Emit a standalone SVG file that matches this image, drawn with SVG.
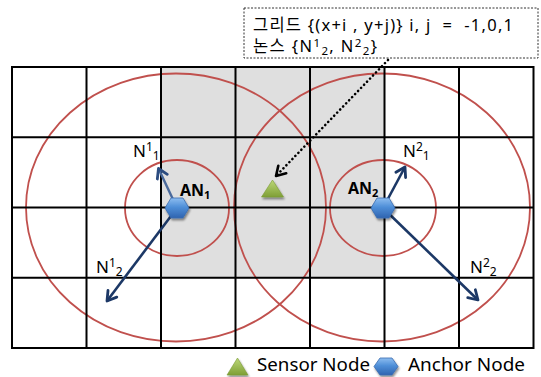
<svg xmlns="http://www.w3.org/2000/svg" width="541" height="377" viewBox="0 0 541 377">
<defs>
<linearGradient id="gHex" x1="0" y1="0" x2="0" y2="1">
<stop offset="0" stop-color="#8dbdf0"/>
<stop offset="0.45" stop-color="#4f8fd8"/>
<stop offset="1" stop-color="#2f64b0"/>
</linearGradient>
<linearGradient id="gTri" x1="0" y1="0" x2="0" y2="1">
<stop offset="0" stop-color="#bcd878"/>
<stop offset="1" stop-color="#7f9f35"/>
</linearGradient>
<filter id="sh" x="-30%" y="-30%" width="160%" height="160%">
<feGaussianBlur in="SourceAlpha" stdDeviation="1"/>
<feOffset dx="1" dy="1.5" result="b"/>
<feComponentTransfer><feFuncA type="linear" slope="0.45"/></feComponentTransfer>
<feMerge><feMergeNode/><feMergeNode in="SourceGraphic"/></feMerge>
</filter>
<marker id="ahNavy" markerUnits="userSpaceOnUse" markerWidth="16" markerHeight="16" refX="12" refY="8" orient="auto">
<path d="M3,2.5 L12,8 L3,13.5" fill="none" stroke="#1c3866" stroke-width="2.8" stroke-linejoin="round" stroke-linecap="round"/>
</marker>
<marker id="ahLight" markerUnits="userSpaceOnUse" markerWidth="16" markerHeight="16" refX="12" refY="8" orient="auto">
<path d="M3,2.5 L12,8 L3,13.5" fill="none" stroke="#2c4c80" stroke-width="2.8" stroke-linejoin="round" stroke-linecap="round"/>
</marker>
<marker id="ahDot" markerUnits="userSpaceOnUse" markerWidth="16" markerHeight="16" refX="12" refY="8" orient="auto">
<path d="M3,2.5 L12,8 L3,13.5" fill="none" stroke="#000" stroke-width="2.6" stroke-linejoin="round" stroke-linecap="round"/>
</marker>
</defs>
<style>
.grid{stroke:#000;stroke-width:2;fill:none}
.ring{fill:none;stroke:#c0504d;stroke-width:1.8}
.lbl{font-family:"Noto Sans","Noto Sans CJK KR",sans-serif;font-size:17px;fill:#000}
.an{font-family:"Noto Sans","Noto Sans CJK KR",sans-serif;font-size:16px;font-weight:bold;fill:#000}
.callout{font-family:"Noto Sans","Noto Sans CJK KR",sans-serif;font-size:16.5px;fill:#000}
.legend{font-family:"Noto Sans","Noto Sans CJK KR",sans-serif;font-size:18px;fill:#000}
.hex{fill:url(#gHex);stroke:#3a6cb0;stroke-width:0.8}
.tri{fill:url(#gTri);stroke:#7a9a36;stroke-width:0.6}
</style>
<rect width="541" height="377" fill="#fff"/>

<g id="shaded-cells">
<rect x="161" y="67" width="223.5" height="210.8" fill="#dfdfdf"/>
</g>

<g id="rings">
<ellipse class="ring" cx="176" cy="207.5" rx="150" ry="134"/>
<ellipse class="ring" cx="382" cy="207.5" rx="148" ry="134"/>
<ellipse class="ring" cx="177" cy="208" rx="52" ry="48"/>
<ellipse class="ring" cx="383" cy="208" rx="53" ry="48"/>
</g>

<g id="grid">
<rect class="grid" x="12" y="67" width="521.5" height="281"/>
<path class="grid" d="M86.5,67V348M161,67V348M235.5,67V348M310,67V348M384.5,67V348M459,67V348M12,137.3H533.5M12,207.5H533.5M12,277.8H533.5"/>
</g>

<g id="connectors">
<line x1="177" y1="208" x2="158.5" y2="168.5" stroke="#4a6a9c" stroke-width="2.4" marker-end="url(#ahLight)"/>
<line x1="177" y1="208" x2="107" y2="301" stroke="#1c3866" stroke-width="2.6" marker-end="url(#ahNavy)"/>
<line x1="383" y1="208" x2="405" y2="167" stroke="#1c3866" stroke-width="2.6" marker-end="url(#ahNavy)"/>
<line x1="383" y1="208" x2="478" y2="300" stroke="#1c3866" stroke-width="2.6" marker-end="url(#ahNavy)"/>
<line x1="388" y1="60" x2="276" y2="176" stroke="#000" stroke-width="2.6" stroke-dasharray="0.1 4.2" stroke-linecap="round" marker-end="url(#ahDot)"/>
</g>

<g id="callout">
<rect x="244" y="8" width="294" height="50" fill="#fff" stroke="#333" stroke-width="1" stroke-dasharray="2 1.5"/>
<text class="callout" x="253" y="31" xml:space="preserve" textLength="260" lengthAdjust="spacing">그리드 {(x+i , y+j)} i, j  =  -1,0,1</text>
<text class="callout" x="253" y="52" textLength="124" lengthAdjust="spacing">논스 {N<tspan font-size="11.5" dy="-5">1</tspan><tspan font-size="11.5" dy="8">2</tspan><tspan dy="-3">, N</tspan><tspan font-size="11.5" dy="-5">2</tspan><tspan font-size="11.5" dy="8">2</tspan><tspan dy="-3">}</tspan></text>
</g>

<g id="sensor">
<polygon class="tri" points="272.5,180 283.5,197 261.5,197" filter="url(#sh)"/>
</g>

<g id="AN1">
<polygon class="hex" points="165,208 171,198 183,198 189,208 183,218 171,218" filter="url(#sh)"/>
<text class="an" x="180" y="196">AN<tspan font-size="11" dy="3">1</tspan></text>
</g>

<g id="AN2">
<polygon class="hex" points="371,208 377,198 389,198 395,208 389,218 377,218" filter="url(#sh)"/>
<text class="an" x="348" y="194">AN<tspan font-size="11" dy="3">2</tspan></text>
</g>

<g id="N1-1">
<text class="lbl" x="133" y="157">N<tspan font-size="12" dy="-6">1</tspan><tspan font-size="12" dy="9">1</tspan></text>
</g>
<g id="N1-2">
<text class="lbl" x="96" y="273">N<tspan font-size="12" dy="-6">1</tspan><tspan font-size="12" dy="9">2</tspan></text>
</g>
<g id="N2-1">
<text class="lbl" x="403" y="157">N<tspan font-size="12" dy="-6">2</tspan><tspan font-size="12" dy="9">1</tspan></text>
</g>
<g id="N2-2">
<text class="lbl" x="470" y="273">N<tspan font-size="12" dy="-6">2</tspan><tspan font-size="12" dy="9">2</tspan></text>
</g>

<g id="legend">
<polygon class="tri" points="237.5,358 248,375 227,375" filter="url(#sh)"/>
<text class="legend" x="257" y="371" textLength="113" lengthAdjust="spacingAndGlyphs">Sensor Node</text>
<polygon class="hex" points="374,366.5 380,358 392,358 398,366.5 392,375 380,375" filter="url(#sh)"/>
<text class="legend" x="408" y="371" textLength="117" lengthAdjust="spacingAndGlyphs">Anchor Node</text>
</g>
</svg>
